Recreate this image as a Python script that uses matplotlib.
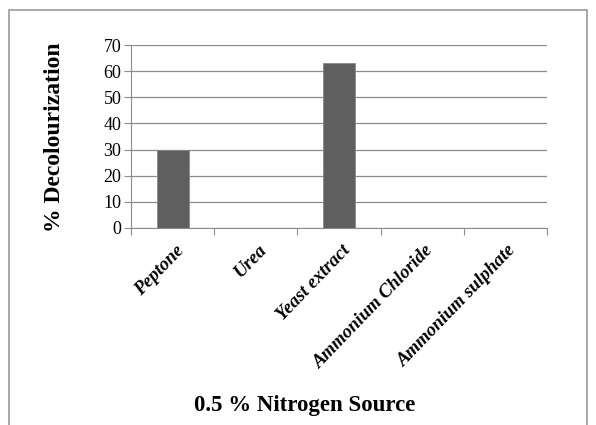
import numpy as np
import matplotlib
matplotlib.use("Agg")
import matplotlib.pyplot as plt
from matplotlib.patches import Rectangle

sources = ["Peptone", "Urea", "Yeast extract", "Ammonium Chloride", "Ammonium sulphate"]
decolour = [30, 0, 63, 0, 0]
yticks = [0, 10, 20, 30, 40, 50, 60, 70]

serif = ["Liberation Serif", "DejaVu Serif"]

fig = plt.figure(figsize=(5.96, 4.25), dpi=100)
ax = fig.add_axes([131/596, 1-228/425, (547-131)/596, (228-45)/425])

x = np.arange(len(sources))
ax.bar(x, decolour, width=0.385, color="#5f5f5f", edgecolor="#8a8a8a", linewidth=0.6, zorder=3)

ax.set_xlim(-0.5, len(sources)-0.5)
ax.set_ylim(0, 70)
ax.set_yticks(yticks)
ax.set_yticklabels([str(v) for v in yticks], fontfamily=serif, fontsize=13)
ax.yaxis.grid(True, color="#8c8c8c", linewidth=0.9, zorder=0)

# ticks sit between the categories
ax.set_xticks(np.arange(-0.5, len(sources)))
ax.set_xticklabels([])
ax.tick_params(axis="x", length=5, color="#8c8c8c", direction="out")
ax.tick_params(axis="y", length=5, color="#8c8c8c", direction="out", pad=2)
for i, s in enumerate(sources):
    ax.text(i + 0.1, -7.5, s, rotation=46, ha="right", va="center", rotation_mode="anchor",
            fontfamily=serif, fontweight="bold", fontstyle="italic", fontsize=13.5,
            clip_on=False)

for side in ["top", "right"]:
    ax.spines[side].set_visible(False)
ax.spines["left"].set_color("#8c8c8c")
ax.spines["bottom"].set_color("#8c8c8c")

fig.text(55/596, 1-137/425, "% Decolourization", rotation=90, ha="center", va="center",
         fontfamily=serif, fontweight="bold", fontsize=17)
fig.text(305/596, 1-405/425, "0.5 % Nitrogen Source", ha="center", va="center",
         fontfamily=serif, fontweight="bold", fontsize=16.5)

# outer chart frame
fig.patches.append(Rectangle((9/596, -0.05), (587-9)/596, 1.05-10/425, transform=fig.transFigure,
                             fill=False, edgecolor="#9a9a9a", linewidth=1.2))

fig.savefig("out.png", dpi=100)
